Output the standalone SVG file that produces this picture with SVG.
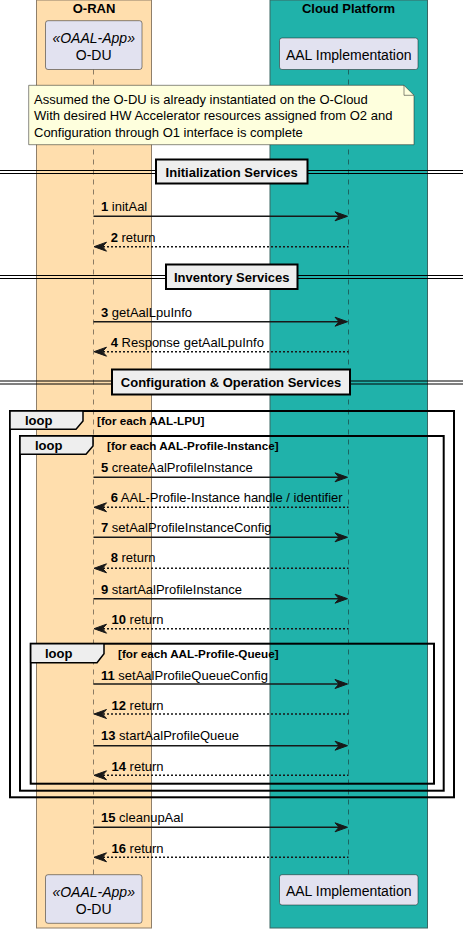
<svg xmlns="http://www.w3.org/2000/svg" width="463" height="929" viewBox="0 0 463 929">
<defs>
<style>
text{font-family:"Liberation Sans",Arial,sans-serif;fill:#000}
.title{font-size:13px;font-weight:bold}
.pname{font-size:14px}
.stereo{font-size:14px;font-style:italic}
.msg{font-size:13px}
.num{font-weight:bold}
.part{fill:#E2E2F0;stroke:#181818;stroke-width:0.5}
.life{stroke:#181818;stroke-width:0.5;stroke-dasharray:5,5}
.call{stroke:#181818;stroke-width:1.5;fill:none}
.ret{stroke:#181818;stroke-width:1.5;fill:none;stroke-dasharray:2,2}
.head{fill:#181818;stroke:#181818;stroke-width:1}
.frame{fill:none;stroke:#000;stroke-width:2}
.tab{fill:#EEEEEE;stroke:#000;stroke-width:1.5}
.sep{stroke:#000;stroke-width:1}
.sepbox{fill:#EEEEEE;stroke:#000;stroke-width:2}
.lbl{font-size:11.7px;font-weight:bold}
</style>
</defs>

<g id="box-oran">
<rect x="36.5" y="0" width="115" height="928" fill="#FFDEAD" stroke="#8F7F6A" stroke-width="1"/>
<text class="title" x="94" y="13" text-anchor="middle">O-RAN</text>
</g>
<g id="box-cloud">
<rect x="270" y="0" width="157.5" height="928" fill="#20B2AA" stroke="#3A6663" stroke-width="1"/>
<text class="title" x="348.5" y="13" text-anchor="middle">Cloud Platform</text>
</g>

<g id="lifelines">
<line class="life" x1="93.5" y1="69.5" x2="93.5" y2="874.7"/>
<line class="life" x1="348.5" y1="69.5" x2="348.5" y2="874.7"/>
</g>

<g id="odu-top">
<rect class="part" x="45.5" y="20.7" width="96.5" height="48.8" rx="2.5"/>
<text class="stereo" x="93.7" y="43" text-anchor="middle">«OAAL-App»</text>
<text class="pname" x="93.7" y="59.5" text-anchor="middle">O-DU</text>
</g>
<g id="aal-top">
<rect class="part" x="279.5" y="38" width="138.5" height="31.5" rx="2.5"/>
<text class="pname" x="348.7" y="59.5" text-anchor="middle">AAL Implementation</text>
</g>

<g id="note">
<path d="M28.7,85.3 L404,85.3 L414,95.3 L414,144.7 L28.7,144.7 Z" fill="#FEFFDD" stroke="#181818" stroke-width="0.5"/>
<path d="M404,85.3 L404,95.3 L414,95.3" fill="none" stroke="#181818" stroke-width="0.5"/>
<text class="msg" x="34" y="104">Assumed the O-DU is already instantiated on the O-Cloud</text>
<text class="msg" x="34" y="120">With desired HW Accelerator resources assigned from O2 and</text>
<text class="msg" x="34" y="137">Configuration through O1 interface is complete</text>
</g>

<g id="div-init">
<line class="sep" x1="0" y1="170.5" x2="463" y2="170.5"/>
<line class="sep" x1="0" y1="173.5" x2="463" y2="173.5"/>
<rect class="sepbox" x="156" y="159.5" width="151.5" height="24"/>
<text class="title" x="231.7" y="176.5" text-anchor="middle">Initialization Services</text>
</g>
<g id="div-inv">
<line class="sep" x1="0" y1="275.5" x2="463" y2="275.5"/>
<line class="sep" x1="0" y1="278.5" x2="463" y2="278.5"/>
<rect class="sepbox" x="166" y="264.5" width="131.5" height="24.5"/>
<text class="title" x="231.7" y="281.5" text-anchor="middle">Inventory Services</text>
</g>
<g id="div-conf">
<line class="sep" x1="0" y1="381" x2="463" y2="381"/>
<line class="sep" x1="0" y1="384" x2="463" y2="384"/>
<rect class="sepbox" x="112" y="369.5" width="238" height="25"/>
<text class="title" x="231" y="387" text-anchor="middle">Configuration &amp; Operation Services</text>
</g>

<g id="loop-lpu">
<rect class="frame" x="10" y="411" width="444" height="386.3"/>
<path class="tab" d="M10,411 L83,411 L83,421 L76,429.3 L10,429.3 Z"/>
<text class="title" x="25" y="425">loop</text>
<text class="lbl" x="97" y="425">[for each AAL-LPU]</text>
</g>
<g id="loop-instance">
<rect class="frame" x="20" y="436" width="423.7" height="354.7"/>
<path class="tab" d="M20,436 L93,436 L93,446 L86,454.3 L20,454.3 Z"/>
<text class="title" x="35" y="450">loop</text>
<text class="lbl" x="107" y="450">[for each AAL-Profile-Instance]</text>
</g>
<g id="loop-queue">
<rect class="frame" x="30.7" y="643.7" width="403.3" height="140"/>
<path class="tab" d="M30.7,643.7 L104,643.7 L104,653.7 L97,662.7 L30.7,662.7 Z"/>
<text class="title" x="45" y="658">loop</text>
<text class="lbl" x="118" y="658">[for each AAL-Profile-Queue]</text>
</g>

<g id="messages">
<line class="call" x1="93.5" y1="216.3" x2="341" y2="216.3"/>
<polygon class="head" points="335,211.8 347.5,216.3 335,220.8 339,216.3"/>
<text class="msg" x="101" y="211"><tspan class="num">1</tspan> initAal</text>

<line class="ret" x1="99" y1="246.7" x2="348.5" y2="246.7"/>
<polygon class="head" points="106.5,242.2 94,246.7 106.5,251.2 102.5,246.7"/>
<text class="msg" x="110.7" y="242"><tspan class="num">2</tspan> return</text>

<line class="call" x1="93.5" y1="321.7" x2="341" y2="321.7"/>
<polygon class="head" points="335,317.2 347.5,321.7 335,326.2 339,321.7"/>
<text class="msg" x="101" y="317"><tspan class="num">3</tspan> getAalLpuInfo</text>

<line class="ret" x1="99" y1="351.7" x2="348.5" y2="351.7"/>
<polygon class="head" points="106.5,347.2 94,351.7 106.5,356.2 102.5,351.7"/>
<text class="msg" x="110.7" y="347"><tspan class="num">4</tspan> Response getAalLpuInfo</text>

<line class="call" x1="93.5" y1="477.3" x2="341" y2="477.3"/>
<polygon class="head" points="335,472.8 347.5,477.3 335,481.8 339,477.3"/>
<text class="msg" x="101" y="472"><tspan class="num">5</tspan> createAalProfileInstance</text>

<line class="ret" x1="99" y1="507.3" x2="348.5" y2="507.3"/>
<polygon class="head" points="106.5,502.8 94,507.3 106.5,511.8 102.5,507.3"/>
<text class="msg" x="110.7" y="502"><tspan class="num">6</tspan> AAL-Profile-Instance handle / identifier</text>

<line class="call" x1="93.5" y1="537.3" x2="341" y2="537.3"/>
<polygon class="head" points="335,532.8 347.5,537.3 335,541.8 339,537.3"/>
<text class="msg" x="101" y="531.5"><tspan class="num">7</tspan> setAalProfileInstanceConfig</text>

<line class="ret" x1="99" y1="568.3" x2="348.5" y2="568.3"/>
<polygon class="head" points="106.5,563.8 94,568.3 106.5,572.8 102.5,568.3"/>
<text class="msg" x="110.7" y="562"><tspan class="num">8</tspan> return</text>

<line class="call" x1="93.5" y1="598.7" x2="341" y2="598.7"/>
<polygon class="head" points="335,594.2 347.5,598.7 335,603.2 339,598.7"/>
<text class="msg" x="101" y="593.5"><tspan class="num">9</tspan> startAalProfileInstance</text>

<line class="ret" x1="99" y1="628.7" x2="348.5" y2="628.7"/>
<polygon class="head" points="106.5,624.2 94,628.7 106.5,633.2 102.5,628.7"/>
<text class="msg" x="111.5" y="623.8"><tspan class="num">10</tspan> return</text>

<line class="call" x1="93.5" y1="684" x2="341" y2="684"/>
<polygon class="head" points="335,679.5 347.5,684 335,688.5 339,684"/>
<text class="msg" x="101" y="679.5"><tspan class="num">11</tspan> setAalProfileQueueConfig</text>

<line class="ret" x1="99" y1="714" x2="348.5" y2="714"/>
<polygon class="head" points="106.5,709.5 94,714 106.5,718.5 102.5,714"/>
<text class="msg" x="111.5" y="709.5"><tspan class="num">12</tspan> return</text>

<line class="call" x1="93.5" y1="745.7" x2="341" y2="745.7"/>
<polygon class="head" points="335,741.2 347.5,745.7 335,750.2 339,745.7"/>
<text class="msg" x="101" y="740.2"><tspan class="num">13</tspan> startAalProfileQueue</text>

<line class="ret" x1="99" y1="775.3" x2="348.5" y2="775.3"/>
<polygon class="head" points="106.5,770.8 94,775.3 106.5,779.8 102.5,775.3"/>
<text class="msg" x="111.5" y="770.5"><tspan class="num">14</tspan> return</text>

<line class="call" x1="93.5" y1="827.3" x2="341" y2="827.3"/>
<polygon class="head" points="335,822.8 347.5,827.3 335,831.8 339,827.3"/>
<text class="msg" x="101" y="822.2"><tspan class="num">15</tspan> cleanupAal</text>

<line class="ret" x1="99" y1="857.3" x2="348.5" y2="857.3"/>
<polygon class="head" points="106.5,852.8 94,857.3 106.5,861.8 102.5,857.3"/>
<text class="msg" x="111.5" y="852.5"><tspan class="num">16</tspan> return</text>
</g>

<g id="odu-bottom">
<rect class="part" x="45.5" y="874.7" width="96.5" height="48.6" rx="2.5"/>
<text class="stereo" x="93.7" y="897" text-anchor="middle">«OAAL-App»</text>
<text class="pname" x="93.7" y="913.5" text-anchor="middle">O-DU</text>
</g>
<g id="aal-bottom">
<rect class="part" x="279.5" y="874.7" width="138.5" height="30.3" rx="2.5"/>
<text class="pname" x="348.7" y="895.5" text-anchor="middle">AAL Implementation</text>
</g>
</svg>
